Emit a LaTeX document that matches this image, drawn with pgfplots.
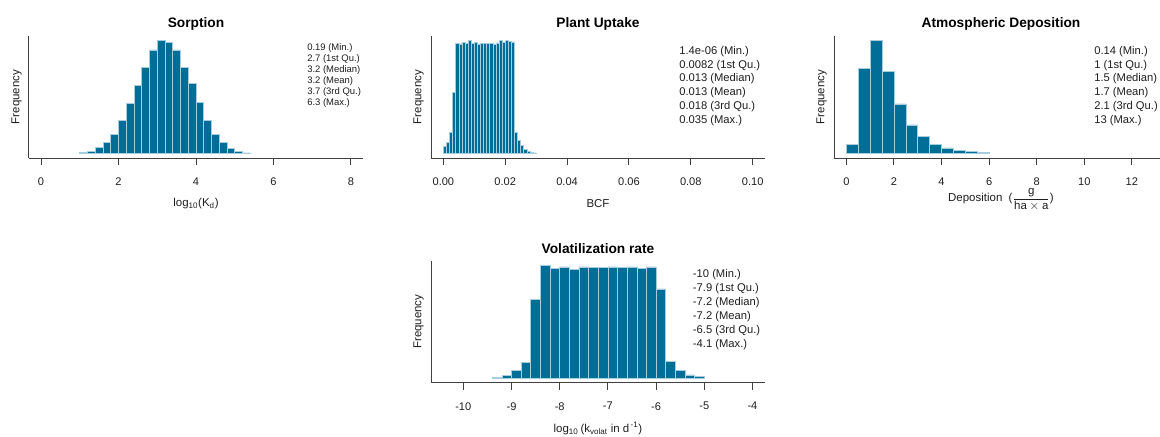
\documentclass[border=0pt]{standalone}
\usepackage{fontspec}
\setmainfont{Liberation Sans}
\usepackage{amsmath}
\usepackage{pgfplots}
\pgfplotsset{compat=1.18}

\definecolor{barfill}{RGB}{0,110,150}
\definecolor{baredge}{RGB}{165,205,222}
\definecolor{axisgray}{RGB}{64,64,64}
\definecolor{txt}{RGB}{30,30,30}

\pgfplotsset{
  rhist/.style={
    scale only axis, width=250.5pt, height=91.5pt, anchor=south west,
    axis x line=bottom, axis y line=left,
    axis line style={-, axisgray, line width=0.75pt},
    ytick=\empty, tick align=outside, major tick length=5.25pt,
    xtick style={axisgray, line width=0.75pt},
    /pgf/number format/assume math mode=true,
    ticklabel style={font=\fontsize{8.3}{10}\selectfont, text=txt},
    xticklabel style={yshift=-6pt},
    every axis title/.style={at={(axis description cs:0.5,1)}, anchor=center,
      yshift=9pt, font=\fontsize{10.3}{12}\selectfont\bfseries},
    every axis y label/.style={at={(axis description cs:-0.037,0.5)}, anchor=center,
      rotate=90, font=\fontsize{8.6}{10}\selectfont, text=txt},
    every axis x label/.style={at={(axis description cs:0.5,-0.375)}, anchor=center,
      font=\fontsize{8.6}{10}\selectfont, text=txt},
    ylabel={Frequency},
    ymin=-13.5, ymax=350.5,
  },
  hbar/.style={ybar interval, fill=barfill, draw=baredge, line width=0.45pt},
}

\begin{document}
\begin{tikzpicture}[x=0.75pt, y=-0.75pt]
\useasboundingbox (0,0) rectangle (1160,436);
\clip (0,0) rectangle (1160,436);

% Sorption
\begin{axis}[rhist, at={(21.75pt,-118.5pt)},
  title={Sorption}, xlabel={log\textsubscript{10}(K\textsubscript{d})},
  xmin=-0.31, xmax=8.31, xtick={0,2,4,6,8}]
\addplot[hbar] table {
1.0 3
1.2 7
1.4 17
1.6 34
1.8 58
2.0 98
2.2 150
2.4 203
2.6 257
2.8 309
3.0 337
3.2 331
3.4 309
3.6 257
3.8 208
4.0 152
4.2 98
4.4 58
4.6 34
4.8 16
5.0 7
5.2 2
5.4 0
};
\end{axis}

% Plant uptake
\begin{axis}[rhist, at={(323.25pt,-118.5pt)},
  title={Plant Uptake}, xlabel={BCF},
  xmin=-0.004, xmax=0.104, xtick={0,0.02,0.04,0.06,0.08,0.1},
  xticklabels={0.00,0.02,0.04,0.06,0.08,0.10}, scaled x ticks=false]
\addplot[hbar] table {
0.000 22
0.001 32
0.002 63
0.003 182
0.004 329
0.005 327
0.006 331
0.007 328
0.008 337
0.009 329
0.010 332
0.011 327
0.012 329
0.013 329
0.014 328
0.015 328
0.016 325
0.017 330
0.018 337
0.019 333
0.020 337
0.021 335
0.022 333
0.023 63
0.024 40
0.025 23
0.026 13
0.027 6
0.028 3
0.029 2
0.030 0
};
\end{axis}

% Atmospheric deposition
\begin{axis}[rhist, at={(625.5pt,-118.5pt)},
  title={Atmospheric Deposition},
  xlabel={Deposition\ \ ($\dfrac{\mbox{g}}{\mbox{ha}\times\mbox{a}}$)},
  xlabel style={at={(axis description cs:0.5,-0.34)}},
  xmin=-0.52, xmax=13.52, xtick={0,2,4,6,8,10,12},
  ymin=-13.6, ymax=353.6]
\addplot[hbar] table {
0.0 27
0.5 257
1.0 340
1.5 247
2.0 149
2.5 86
3.0 51
3.5 27
4.0 17
4.5 10
5.0 6
5.5 3
6.0 0
};
\end{axis}

% Volatilization rate
\begin{axis}[rhist, at={(323.25pt,-287pt)},
  title={Volatilization rate},
  xlabel={log\textsubscript{10}\,(k\textsubscript{volat} in d\textsuperscript{\,-1})},
  xmin=-10.67, xmax=-3.74, xtick={-10,-9,-8,-7,-6,-5,-4},
  ymin=-13.5, ymax=351.5]
\addplot[hbar] table {
-9.4 2
-9.2 8
-9.0 24
-8.8 47
-8.6 236
-8.4 338
-8.2 329
-8.0 333
-7.8 325
-7.6 333
-7.4 331
-7.2 331
-7.0 333
-6.8 331
-6.6 333
-6.4 329
-6.2 333
-6.0 267
-5.8 50
-5.6 24
-5.4 10
-5.2 5
-5.0 0
};
\end{axis}

% summary statistics
\begin{scope}[every node/.style={anchor=west, inner sep=0pt, text=txt}]
\begin{scope}[font=\fontsize{7.1}{8}\selectfont]
\node at (307,48.3) {0.19 (Min.)};
\node at (307,59.3) {2.7 (1st Qu.)};
\node at (307,70.3) {3.2 (Median)};
\node at (307,81.3) {3.2 (Mean)};
\node at (307,92.5) {3.7 (3rd Qu.)};
\node at (307,103.5) {6.3 (Max.)};
\end{scope}
\begin{scope}[font=\fontsize{8.4}{10}\selectfont]
\node at (679,51.7) {1.4e-06 (Min.)};
\node at (679,65.3) {0.0082 (1st Qu.)};
\node at (679,79) {0.013 (Median)};
\node at (679,92.5) {0.013 (Mean)};
\node at (679,106.3) {0.018 (3rd Qu.)};
\node at (679,120.3) {0.035 (Max.)};
\node at (1094,51.7) {0.14 (Min.)};
\node at (1094,65.3) {1 (1st Qu.)};
\node at (1094,79) {1.5 (Median)};
\node at (1094,92.5) {1.7 (Mean)};
\node at (1094,106.3) {2.1 (3rd Qu.)};
\node at (1094,120.3) {13 (Max.)};
\node at (692.7,275) {-10 (Min.)};
\node at (692.7,289) {-7.9 (1st Qu.)};
\node at (692.7,303) {-7.2 (Median)};
\node at (692.7,317) {-7.2 (Mean)};
\node at (692.7,331) {-6.5 (3rd Qu.)};
\node at (692.7,345) {-4.1 (Max.)};
\end{scope}
\end{scope}
\end{tikzpicture}
\end{document}
